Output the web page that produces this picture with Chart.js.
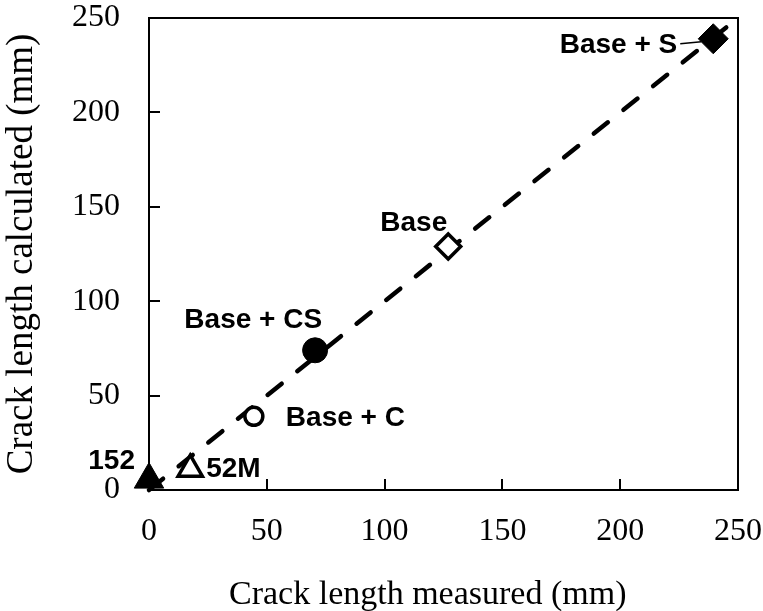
<!DOCTYPE html>
<html><head><meta charset="utf-8">
<script src="https://cdn.jsdelivr.net/npm/chart.js@4.4.0/dist/chart.umd.min.js"></script>
<style>html,body{margin:0;padding:0;background:#fff;} #wrap{width:763px;height:611px;position:relative;}</style>
</head><body><div id="wrap"><canvas id="c"></canvas></div>
<script>
// ---- data ----
const measured   = [0, 17.5, 44.5, 70.5, 127, 239.5];
const calculated = [5.5, 11, 39, 74, 129, 239];
const pointLabels = ['152', '52M', 'Base + C', 'Base + CS', 'Base', 'Base + S'];
const trendX = [0, 245];
const trendY = [0, 245];
const xTicks = [0, 50, 100, 150, 200, 250];
const yTicks = [0, 50, 100, 150, 200, 250];
const xTitle = 'Crack length measured (mm)';
const yTitle = 'Crack length calculated (mm)';

// ---- styling ----
const serif = '"Liberation Serif", "Times New Roman", serif';
const markerStyle = ['triangle', 'triangle', 'circle', 'circle', 'rectRot', 'rectRot'];
const markerRadius = [17, 14, 9, 12.5, 12.5, 15];
const markerFill = ['#000', '#fff', '#fff', '#000', '#fff', '#000'];
const markerBorder = [1, 3.5, 3.5, 1, 3.5, 1];
// label placement relative to its point: [dx, dy, align]
const labelPlace = [[-14, -18, 'right'], [16, 0, 'left'], [32, 2, 'left'], [7, -30, 'right'], [-1, -23, 'right'], [-36, 7, 'right']];

const markerData = measured.map((x, i) => ({x: x, y: calculated[i]}));
const trendData = trendX.map((x, i) => ({x: x, y: trendY[i]}));

const framePlugin = {
  id: 'frame',
  beforeDatasetsDraw(chart) {
    const {ctx, chartArea: a, scales} = chart;
    ctx.save();
    ctx.strokeStyle = '#000';
    ctx.lineWidth = 2;
    ctx.strokeRect(a.left, a.top, a.right - a.left, a.bottom - a.top);
    ctx.beginPath();
    xTicks.forEach(v => { const px = Math.round(scales.x.getPixelForValue(v)); ctx.moveTo(px, a.bottom); ctx.lineTo(px, a.bottom - 11); });
    yTicks.forEach(v => { const py = Math.round(scales.y.getPixelForValue(v)); ctx.moveTo(a.left, py); ctx.lineTo(a.left + 11, py); });
    ctx.stroke();
    // axis titles
    ctx.fillStyle = '#000';
    ctx.textBaseline = 'alphabetic';
    ctx.font = '34px ' + serif;
    ctx.textAlign = 'left';
    ctx.fillText(xTitle, 229, 604);
    ctx.save();
    ctx.translate(32, (a.top + a.bottom) / 2);
    ctx.rotate(-Math.PI / 2);
    ctx.font = '37px ' + serif;
    ctx.textAlign = 'center';
    ctx.fillText(yTitle, 0, 0);
    ctx.restore();
    // point labels
    ctx.font = 'bold 28px "Liberation Sans", Arial, sans-serif';
    ctx.textBaseline = 'middle';
    pointLabels.forEach((t, i) => {
      const px = scales.x.getPixelForValue(measured[i]);
      const py = scales.y.getPixelForValue(calculated[i]);
      const p = labelPlace[i];
      ctx.textAlign = p[2];
      ctx.fillText(t, px + p[0], py + p[1]);
    });
    // leader line for last label
    const lx = scales.x.getPixelForValue(measured[5]);
    const ly = scales.y.getPixelForValue(calculated[5]);
    ctx.lineWidth = 1.5;
    ctx.beginPath();
    ctx.moveTo(lx - 33, ly + 5);
    ctx.lineTo(lx - 12, ly + 3);
    ctx.stroke();
    ctx.restore();
  }
};

new Chart(document.getElementById('c'), {
  type: 'scatter',
  data: {
    datasets: [
      {
        data: markerData,
        pointStyle: markerStyle,
        pointRadius: markerRadius,
        pointBackgroundColor: markerFill,
        pointBorderColor: '#000',
        pointBorderWidth: markerBorder,
        clip: false
      },
      {
        data: trendData,
        showLine: true,
        borderColor: '#000',
        borderWidth: 4.5,
        borderDash: [18, 20],
        borderCapStyle: 'round',
        pointRadius: 0,
        clip: false
      }
    ]
  },
  options: {
    responsive: true,
    maintainAspectRatio: false,
    animation: false,
    layout: {padding: {top: 15, right: 25, bottom: 0, left: 0}},
    plugins: {legend: {display: false}, tooltip: {enabled: false}},
    scales: {
      x: {
        type: 'linear', min: 0, max: 250,
        grid: {display: false}, border: {display: false},
        afterBuildTicks: s => { s.ticks = xTicks.map(v => ({value: v})); },
        ticks: {color: '#000', padding: 14, font: {family: serif, size: 32}},
        title: {display: false, text: xTitle},
        afterFit: s => { s.height = 121; s.paddingLeft = 0; s.paddingRight = 0; }
      },
      y: {
        type: 'linear', min: 0, max: 250,
        grid: {display: false}, border: {display: false},
        afterBuildTicks: s => { s.ticks = yTicks.map(v => ({value: v})); },
        ticks: {color: '#000', padding: 21, font: {family: serif, size: 32}},
        title: {display: false, text: yTitle},
        afterFit: s => { s.width = 149; s.paddingTop = 0; s.paddingBottom = 0; }
      }
    }
  },
  plugins: [framePlugin]
});
</script></body></html>
